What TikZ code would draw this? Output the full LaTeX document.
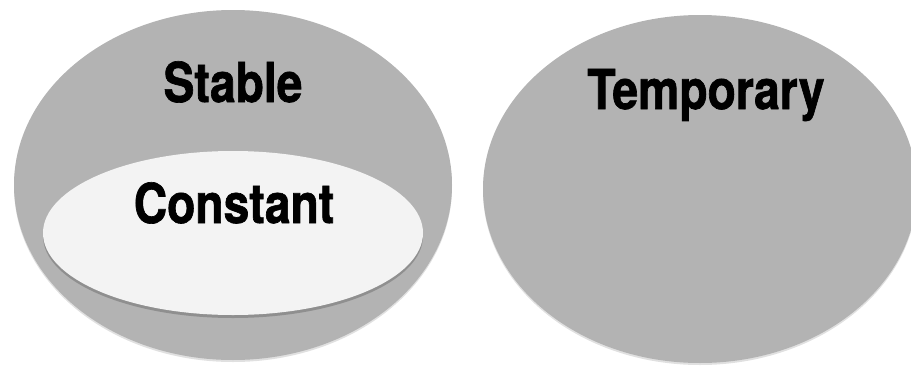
\documentclass[tikz,border=0pt]{standalone}
\usepackage{fontspec}
\usepackage{tikz}
\usetikzlibrary{shapes.geometric, shadows}
\usepackage{xcolor}

\newfontfamily\setlabelfont[FakeStretch=0.84, FakeBold=1.2]{TeX Gyre Heros}
\definecolor{setgrey}{HTML}{B3B3B3}
\definecolor{setlight}{HTML}{F3F3F3}

\begin{document}
\begin{tikzpicture}[
    x=1pt, y=-1pt,
    setshape/.style={
        ellipse,
        fill=setgrey,
        draw=none,
        drop shadow={shadow xshift=0pt, shadow yshift=-2pt, opacity=0.12, fill=black}
    },
    subshape/.style={
        ellipse,
        fill=setlight,
        draw=none,
        drop shadow={shadow xshift=0pt, shadow yshift=-3pt, opacity=0.2, fill=black}
    },
    setlabel/.style={
        anchor=base,
        inner sep=0pt,
        font=\setlabelfont\bfseries\fontsize{55}{60}\selectfont
    }
]
\useasboundingbox (0,0) rectangle (911,365);

% --- Left set ---
\node (stable) [setshape, minimum width=438pt, minimum height=350pt] at (233,185) {};
\node (constant) [subshape, minimum width=380pt, minimum height=164pt] at (233,233) {};

% --- Right set ---
\node (temporary) [setshape, minimum width=434pt, minimum height=348pt] at (700,189) {};

% --- Labels ---
\node (stablelabel) [setlabel] at (233,102) {Stable};
\node (constantlabel) [setlabel] at (234,223) {Constant};
\node (temporarylabel) [setlabel] at (706,109) {Temporary};

\end{tikzpicture}
\end{document}
